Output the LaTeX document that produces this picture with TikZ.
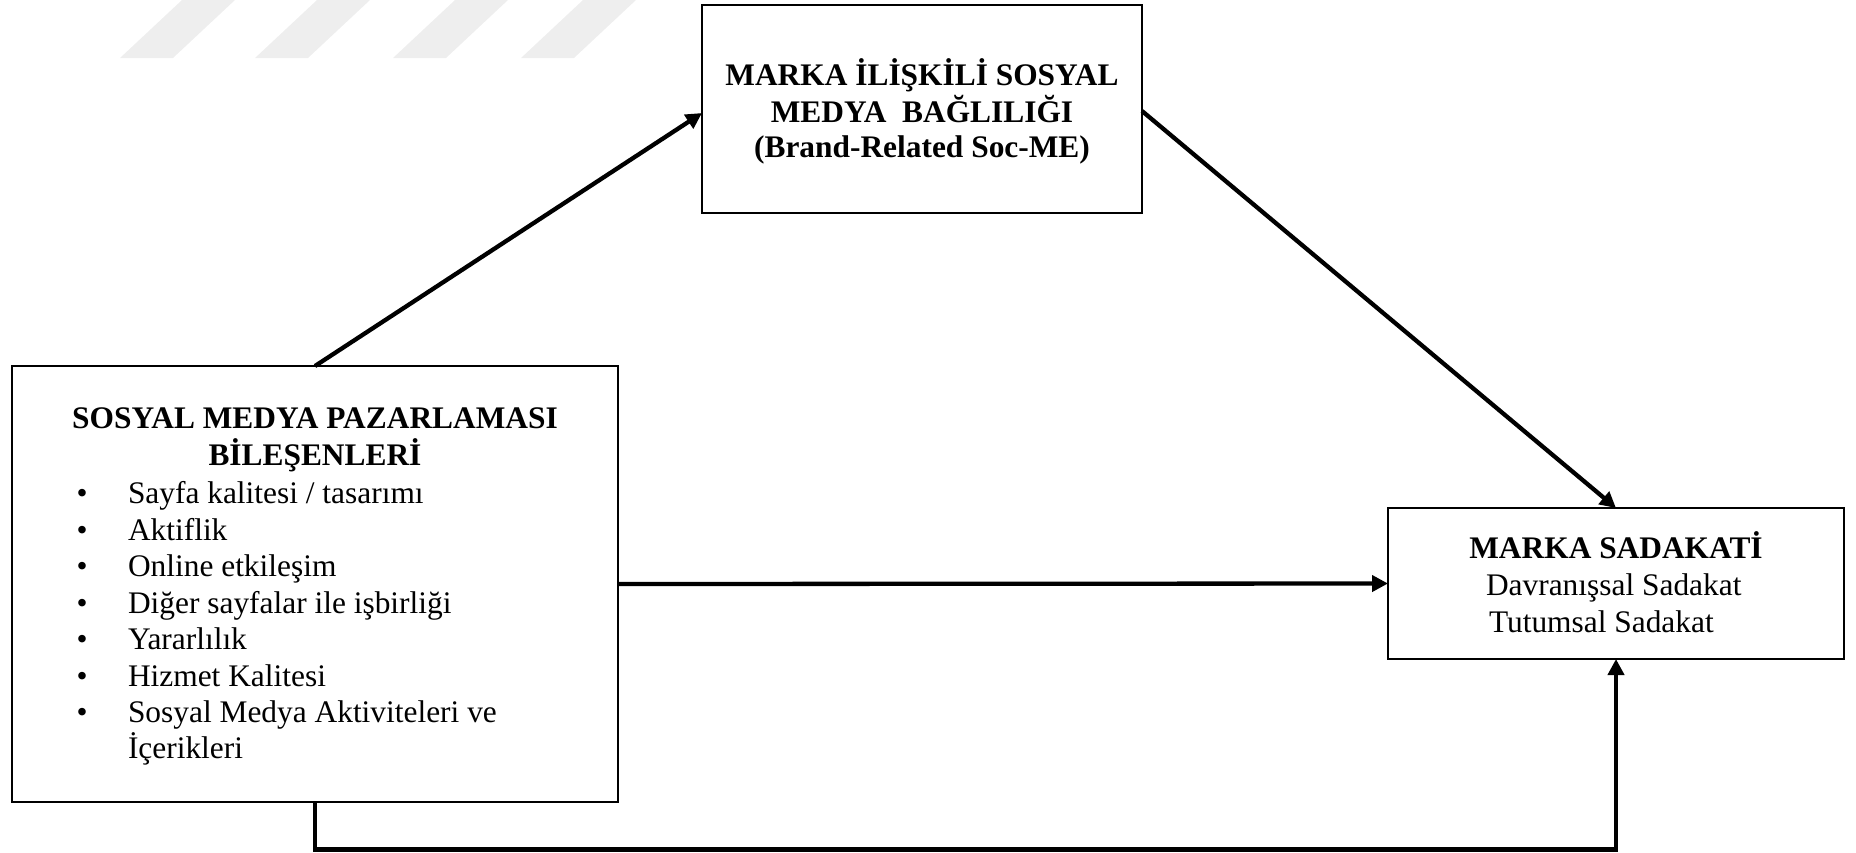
\documentclass[tikz,border=0pt]{standalone}
\usepackage{fontspec}
\setmainfont{Liberation Serif}
\usetikzlibrary{arrows.meta}
\definecolor{stripegray}{HTML}{EEEEEE}
\tikzset{
  frame/.style={draw=black, line width=1pt, fill=white, inner sep=0pt, outer sep=0pt},
  conn/.style={draw=black, line width=2.15pt, -{Triangle[length=8pt,width=8pt]}},
  txt/.style={inner sep=0pt, outer sep=0pt, font=\fontsize{15.7}{18.35}\selectfont},
  head/.style={inner sep=0pt, outer sep=0pt, font=\fontsize{15.7}{18.35}\selectfont\bfseries},
}
\begin{document}
\begin{tikzpicture}[x=0.5pt, y=-0.5pt]
\useasboundingbox (0,0) rectangle (1856,852);

% light diagonal stripes along the top edge
\foreach \s in {120,255,393,521}
  \fill[stripegray] (\s,58) -- (\s+53,58) -- (\s+115,0) -- (\s+62,0) -- cycle;

% boxes
\node[frame, minimum width=220pt, minimum height=104pt] (top) at (922,109) {};
\node[frame, minimum width=303pt, minimum height=218pt] (left) at (315,584) {};
\node[frame, minimum width=228pt, minimum height=75.5pt] (right) at (1616,583.5) {};

% connectors
\draw[conn] (left.north) -- ([yshift=-2pt]top.west);
\draw[conn] ([yshift=-1pt]top.east) -- (right.north);
\draw[conn] (left.east) -- (right.west);
\coordinate (bendL) at (315,849.5);
\coordinate (bendR) at (1616,849.5);
\draw[conn] (left.south) -- (bendL) -- (bendR) -- (right.south);

% engagement box text
\node[head, anchor=base] (t1) at (922,85) {MARKA İLİŞKİLİ SOSYAL};
\node[head, anchor=base] (t2) at (922,122) {MEDYA\ \ BAĞLILIĞI};
\node[head, anchor=base] (t3) at (922,157) {(Brand-Related Soc-ME)};

% marketing components box text
\node[head, anchor=base] (l1) at (315,428) {SOSYAL MEDYA PAZARLAMASI};
\node[head, anchor=base] (l2) at (315,465) {BİLEŞENLERİ};
\foreach \y/\t [count=\i] in {503/{Sayfa kalitesi / tasarımı},
                              540/{Aktiflik},
                              576/{Online etkileşim},
                              613/{Diğer sayfalar ile işbirliği},
                              649/{Yararlılık},
                              686/{Hizmet Kalitesi},
                              722/{Sosyal Medya Aktiviteleri ve}} {
  \node[txt, anchor=base] (bul\i) at (82,\y) {•};
  \node[txt, anchor=base west] (item\i) at (128,\y) {\t};
}
\node[txt, anchor=base west] (item8) at (128,758) {İçerikleri};

% loyalty box text
\node[head, anchor=base] (r1) at (1616,558) {MARKA SADAKATİ};
\node[txt, anchor=base west] (r2) at (1486,595) {Davranışsal Sadakat};
\node[txt, anchor=base west] (r3) at (1489,632) {Tutumsal Sadakat};
\end{tikzpicture}
\end{document}
